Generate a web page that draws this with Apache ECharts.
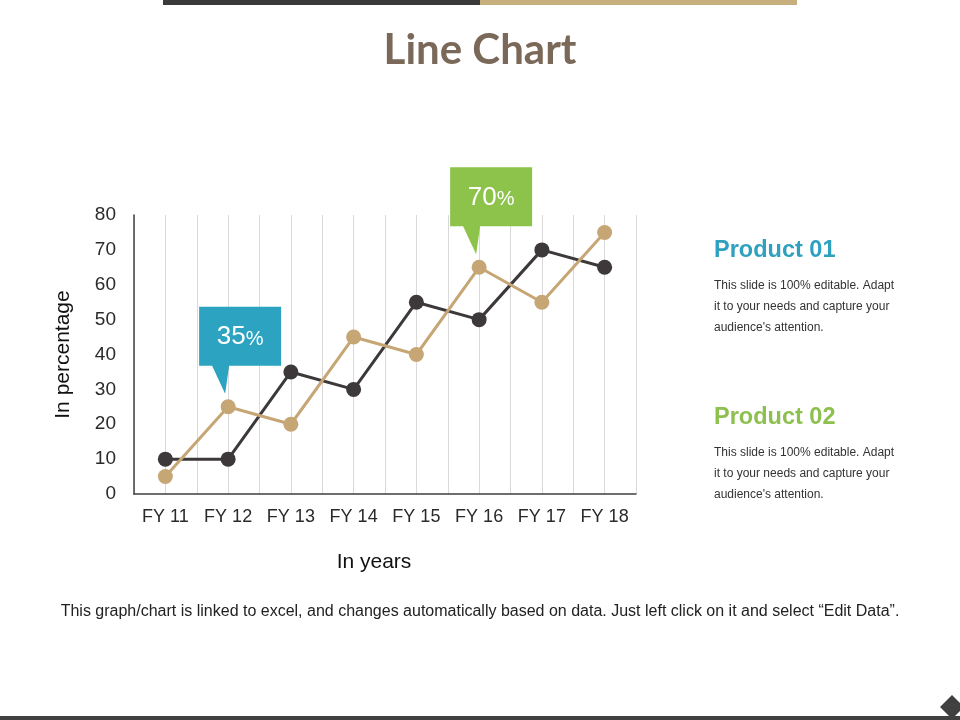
<!DOCTYPE html>
<html>
<head>
<meta charset="utf-8">
<script src="https://cdn.jsdelivr.net/npm/echarts@6/dist/echarts.min.js"></script>
<style>
html,body{margin:0;padding:0;background:#fff;}
#c{width:960px;height:720px;}
</style>
</head>
<body>
<div id="c"></div>
<script>
const categories = ['FY 11','FY 12','FY 13','FY 14','FY 15','FY 16','FY 17','FY 18'];
const product01 = [10, 10, 35, 30, 55, 50, 70, 65];
const product02 = [5, 25, 20, 45, 40, 65, 55, 75];
const yTicks = [0, 10, 20, 30, 40, 50, 60, 70, 80];
const callouts = [
  { category: 'FY 12', value: 25, label: '35', color: '#2ba3c1' },
  { category: 'FY 16', value: 65, label: '70', color: '#8dc34b' }
];
const sideNotes = [
  { title: 'Product 01', color: '#2fa1bf', text: ['This slide is 100% editable. Adapt', 'it to your needs and capture your', "audience's attention."] },
  { title: 'Product 02', color: '#8dc04f', text: ['This slide is 100% editable. Adapt', 'it to your needs and capture your', "audience's attention."] }
];

const chart = echarts.init(document.getElementById('c'));
const FONT = '"Liberation Sans", Arial, sans-serif';

const option = {
  backgroundColor: '#ffffff',
  animation: false,
  title: {
    text: 'Line Chart',
    left: 'center',
    top: 24,
    textStyle: { fontFamily: 'Lato, "Open Sans", sans-serif', fontSize: 42, fontWeight: 'bold', color: '#7a6858' }
  },
  grid: { left: 134, right: 324, top: 215, bottom: 226 },
  xAxis: [
    {
      type: 'category',
      data: categories,
      boundaryGap: true,
      name: 'In years',
      nameLocation: 'middle',
      nameGap: 58,
      nameTextStyle: { fontFamily: FONT, fontSize: 21, color: '#111', padding: [0, 22, 0, 0] },
      axisLine: { show: true, lineStyle: { color: '#404040', width: 1.5 } },
      axisTick: { show: false },
      axisLabel: { fontFamily: FONT, fontSize: 18, color: '#2a2a2a', margin: 14 },
      splitLine: { show: false }
    },
    {
      type: 'value',
      min: 0,
      max: categories.length * 2,
      interval: 1,
      position: 'bottom',
      axisLine: { show: false },
      axisTick: { show: false },
      axisLabel: { show: false },
      splitLine: { show: true, lineStyle: { color: '#d9d9d9', width: 1 } }
    }
  ],
  yAxis: {
    type: 'value',
    min: yTicks[0],
    max: yTicks[yTicks.length - 1],
    interval: yTicks[1] - yTicks[0],
    name: 'In percentage',
    nameLocation: 'middle',
    nameGap: 60,
    nameTextStyle: { fontFamily: FONT, fontSize: 21, color: '#111' },
    axisLine: { show: true, lineStyle: { color: '#404040', width: 1.5 } },
    axisTick: { show: false },
    axisLabel: { fontFamily: FONT, fontSize: 19, color: '#2a2a2a', margin: 18 },
    splitLine: { show: false }
  },
  series: [
    {
      name: 'Product 01',
      type: 'line',
      data: product01,
      symbol: 'circle',
      symbolSize: 15,
      lineStyle: { color: '#3d393a', width: 3 },
      itemStyle: { color: '#3d393a' },
      z: 3
    },
    {
      name: 'Product 02',
      type: 'line',
      data: product02,
      symbol: 'circle',
      symbolSize: 15,
      lineStyle: { color: '#c6a675', width: 3 },
      itemStyle: { color: '#c6a675' },
      z: 4
    }
  ]
};
chart.setOption(option);

const graphics = [];
// top bar
graphics.push({ type: 'rect', shape: { x: 163, y: 0, width: 317, height: 5 }, style: { fill: '#3b3a3a' } });
graphics.push({ type: 'rect', shape: { x: 480, y: 0, width: 317, height: 5 }, style: { fill: '#c8b07e' } });
// bottom line and diamond
graphics.push({ type: 'rect', shape: { x: 0, y: 716, width: 960, height: 4 }, style: { fill: '#404040' } });
graphics.push({ type: 'polygon', shape: { points: [[952, 695], [964, 707], [952, 719], [940, 707]] }, style: { fill: '#404040' } });

// callouts
callouts.forEach(c => {
  const p = chart.convertToPixel({ xAxisIndex: 0, yAxisIndex: 0 }, [c.category, c.value]);
  const px = p[0], py = p[1];
  const left = px - 29, right = px + 53, top = py - 100, bottom = py - 41;
  graphics.push({
    type: 'polygon',
    z: 10,
    shape: { points: [[left, top], [right, top], [right, bottom], [px + 1, bottom], [px - 3, py - 13], [px - 16, bottom], [left, bottom]] },
    style: { fill: c.color }
  });
  graphics.push({
    type: 'text',
    z: 11,
    x: (left + right) / 2,
    y: (top + bottom) / 2 + 1,
    style: {
      text: '{a|' + c.label + '}{b|%}',
      align: 'center',
      verticalAlign: 'middle',
      rich: {
        a: { fontFamily: FONT, fontSize: 26, fill: '#ffffff' },
        b: { fontFamily: FONT, fontSize: 20, fill: '#ffffff', padding: [4, 0, 0, 0] }
      }
    }
  });
});

// side notes
sideNotes.forEach((n, i) => {
  const baseY = 251 + i * 167;
  graphics.push({
    type: 'text', x: 714, y: baseY,
    style: { text: n.title, fontFamily: FONT, fontSize: 23.5, fontWeight: 'bold', fill: n.color, verticalAlign: 'middle' }
  });
  n.text.forEach((line, j) => {
    graphics.push({
      type: 'text', x: 714, y: baseY + 35 + j * 21,
      style: { text: line, fontFamily: FONT, fontSize: 12, fill: '#333', verticalAlign: 'middle' }
    });
  });
});

// footer note
graphics.push({
  type: 'text', x: 480, y: 612,
  style: {
    text: 'This graph/chart is linked to excel, and changes automatically based on data. Just left click on it and select \u201cEdit Data\u201d.',
    fontFamily: FONT, fontSize: 16, fill: '#222', align: 'center', verticalAlign: 'middle'
  }
});

chart.setOption({ graphic: graphics });
</script>
</body>
</html>
